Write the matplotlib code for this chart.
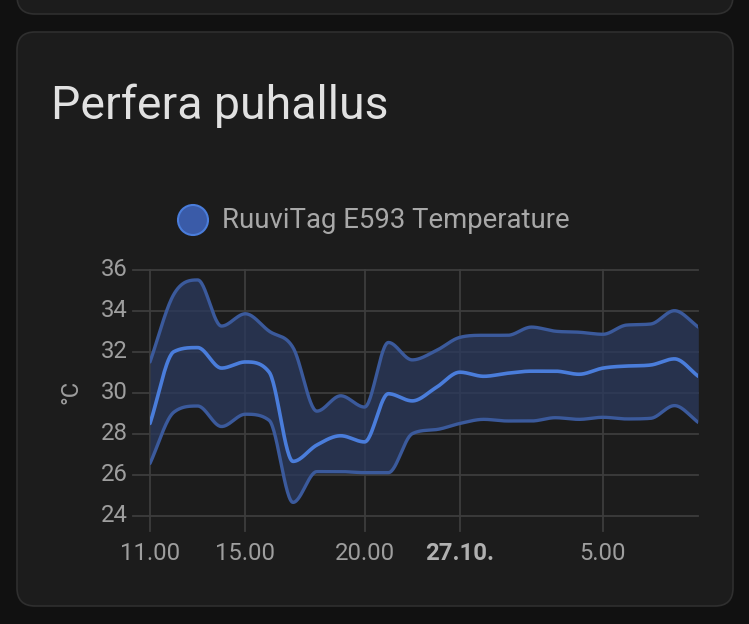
import numpy as np
import matplotlib
matplotlib.use("Agg")
import matplotlib.pyplot as plt
from matplotlib.patches import FancyBboxPatch, Circle
import matplotlib.transforms as mtransforms

plt.rcParams['font.family'] = ['Roboto', 'DejaVu Sans']

# ---- data (hourly statistics, hours since 26.10. 11.00; DST ends at night) ----
hours = list(range(24))
temp_max = [31.5, 34.8, 35.5, 33.25, 33.85, 33.0, 32.2, 29.1, 29.85, 29.3, 32.45, 31.6,
            32.05, 32.7, 32.8, 32.8, 33.2, 33.0, 32.95, 32.85, 33.3, 33.35, 34.0, 33.2]
temp_mean = [28.5, 32.0, 32.2, 31.2, 31.5, 31.0, 26.65, 27.45, 27.9, 27.6, 29.95, 29.6,
             30.25, 31.0, 30.8, 30.95, 31.05, 31.05, 30.9, 31.2, 31.3, 31.35, 31.65, 30.8]
temp_min = [26.55, 29.05, 29.35, 28.35, 28.95, 28.65, 24.65, 26.15, 26.15, 26.1, 26.1, 28.0,
            28.2, 28.5, 28.7, 28.62, 28.62, 28.78, 28.7, 28.8, 28.72, 28.75, 29.37, 28.55]
xtick_pos = [0, 4, 9, 13, 19]
xtick_labels = ["11.00", "15.00", "20.00", "27.10.", "5.00"]
ytick_vals = [24, 26, 28, 30, 32, 34, 36]
title = "Perfera puhallus"
series_name = "RuuviTag E593 Temperature"
unit = "°C"


def monotone(x, y, n=30):
    x = np.asarray(x, float); y = np.asarray(y, float)
    dx = np.diff(x); d = np.diff(y) / dx
    m = np.zeros(len(x))
    m[0] = d[0]; m[-1] = d[-1]
    for i in range(1, len(x) - 1):
        m[i] = 0.0 if d[i - 1] * d[i] <= 0 else (d[i - 1] + d[i]) / 2
    for i in range(len(d)):
        if d[i] == 0:
            m[i] = m[i + 1] = 0
            continue
        a = m[i] / d[i]; b = m[i + 1] / d[i]
        s = a * a + b * b
        if s > 9:
            t = 3 / np.sqrt(s)
            m[i] = t * a * d[i]; m[i + 1] = t * b * d[i]
    xs, ys = [], []
    for i in range(len(d)):
        t = np.linspace(0, 1, n, endpoint=False)
        h00 = 2 * t**3 - 3 * t**2 + 1
        h10 = t**3 - 2 * t**2 + t
        h01 = -2 * t**3 + 3 * t**2
        h11 = t**3 - t**2
        xs.append(x[i] + t * dx[i])
        ys.append(h00 * y[i] + h10 * dx[i] * m[i] + h01 * y[i + 1] + h11 * dx[i] * m[i + 1])
    xs.append([x[-1]]); ys.append([y[-1]])
    return np.concatenate(xs), np.concatenate(ys)


W, H = 749, 624
fig = plt.figure(figsize=(W / 100, H / 100), dpi=100)
fig.patch.set_facecolor('#111111')

# background layer axes in pixel coordinates
bg = fig.add_axes([0, 0, 1, 1], facecolor='none', zorder=-5)
bg.set_xlim(0, W); bg.set_ylim(H, 0); bg.axis('off')
bg.add_patch(FancyBboxPatch((17, -200), 716, 214, boxstyle="round,pad=0,rounding_size=18",
                            facecolor='#1c1c1c', edgecolor='#2f2f2f', linewidth=1.2))
bg.add_patch(FancyBboxPatch((17, 32), 716, 574, boxstyle="round,pad=0,rounding_size=18",
                            facecolor='#1c1c1c', edgecolor='#2f2f2f', linewidth=1.2))
bg.text(51, 106, title, fontsize=33.4, color='#e1e1e1', va='center', ha='left')
bg.add_patch(Circle((193, 220), 15, facecolor='#3a5ba8', edgecolor='#4a7ddb', linewidth=1.5))
bg.text(222, 220, series_name, fontsize=19.8, color='#a8a8a8', va='center', ha='left')
bg.text(71, 392, unit, rotation=90, fontsize=17, color='#9e9e9e', ha='center', va='center')


def fx(px):
    return px / W


def fy(py):
    return 1 - py / H


ax = fig.add_axes([fx(150), fy(515.7), fx(698.3) - fx(150), fy(269.7) - fy(515.7)], zorder=2)
ax.set_facecolor('none')
ax.set_xlim(0, 23)
ax.set_ylim(24, 36)
for s in ax.spines.values():
    s.set_visible(False)
ax.set_xticks([]); ax.set_yticks([])

grid_c = '#3d3d3d'
trh = mtransforms.blended_transform_factory(ax.transAxes, ax.transData)
for v in ytick_vals:
    ax.plot([-17 / 548.3, 1], [v, v], transform=trh, color=grid_c, lw=1.3, clip_on=False, zorder=0)
    ax.text(-22 / 548.3, v, str(v), transform=trh, ha='right', va='center',
            fontsize=17.2, color='#9e9e9e')
trv = mtransforms.blended_transform_factory(ax.transData, ax.transAxes)
for p, lab in zip(xtick_pos, xtick_labels):
    ax.plot([p, p], [-15 / 246, 1], transform=trv, color=grid_c, lw=1.3, clip_on=False, zorder=0)
    ax.text(p, -38 / 246, lab, transform=trv, ha='center', va='center', fontsize=17.2,
            color='#b0b0b0' if lab.endswith('.') else '#9e9e9e',
            fontweight='bold' if lab.endswith('.') else 'normal')

xs, ymax = monotone(hours, temp_max)
_, ymean = monotone(hours, temp_mean)
_, ymin = monotone(hours, temp_min)
ax.fill_between(xs, ymin, ymax, color='#2b3a5e', alpha=0.75, lw=0, zorder=1)
ax.plot(xs, ymax, color='#3b5a9c', lw=2.4, zorder=2, solid_capstyle='round')
ax.plot(xs, ymin, color='#3b5a9c', lw=2.4, zorder=2, solid_capstyle='round')
ax.plot(xs, ymean, color='#4a7ddb', lw=2.6, zorder=3, solid_capstyle='round')

fig.savefig('out.png', dpi=100, facecolor=fig.get_facecolor())
